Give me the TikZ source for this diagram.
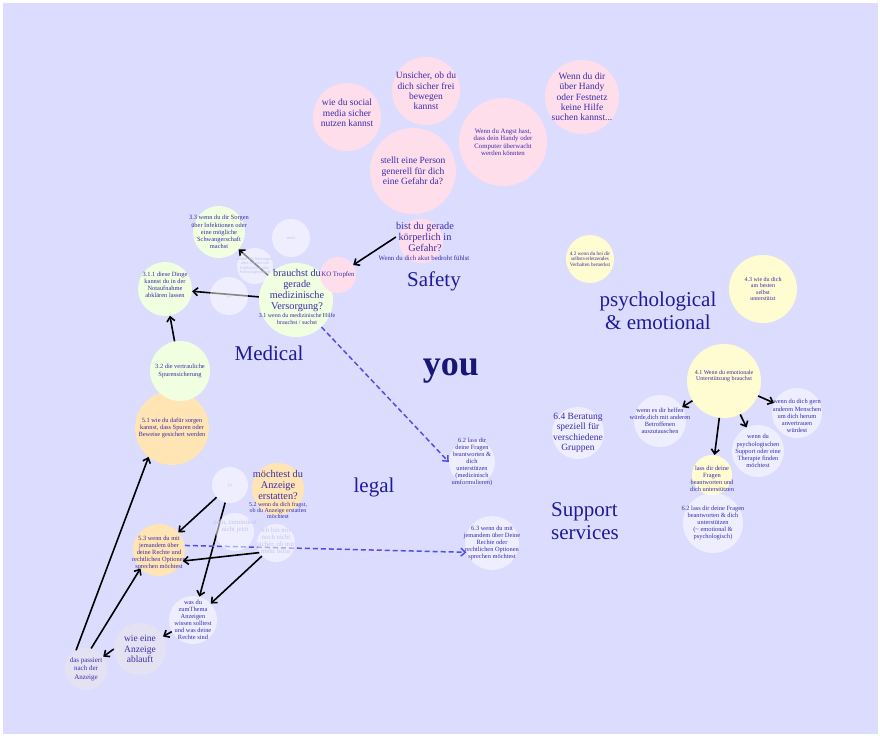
\documentclass[tikz,border=0pt]{standalone}
\usepackage{fontspec}
\setmainfont{Liberation Serif}
\usetikzlibrary{arrows.meta}
\definecolor{bgviolet}{RGB}{220,220,255}
\definecolor{inkblue}{RGB}{58,44,168}
\definecolor{navyblue}{RGB}{30,28,150}
\definecolor{youblue}{RGB}{24,22,118}
\definecolor{safetypink}{RGB}{255,222,236}
\definecolor{medgreen}{RGB}{239,255,224}
\definecolor{legalorange}{RGB}{255,228,180}
\definecolor{psychyellow}{RGB}{255,252,210}
\definecolor{ghostgray}{RGB}{228,226,242}
\definecolor{fainttext}{RGB}{198,196,236}
\definecolor{dashblue}{RGB}{80,80,232}
\pgfdeclarelayer{ghostlayer}
\pgfsetlayers{main,ghostlayer}
\tikzstyle{bubble} = [circle, inner sep=0pt, align=center, text=inkblue]
\tikzstyle{pinkbubble} = [bubble, fill=safetypink]
\tikzstyle{greenbubble} = [bubble, fill=medgreen]
\tikzstyle{orangebubble} = [bubble, fill=legalorange]
\tikzstyle{yellowbubble} = [bubble, fill=psychyellow]
\tikzstyle{graybubble} = [bubble, fill=ghostgray]
\tikzstyle{ghostbubble} = [bubble, fill=white, fill opacity=0.52, text opacity=1]
\tikzstyle{every label} = [align=center, text=inkblue, inner sep=0pt, text opacity=1]
\tikzstyle{caption} = [text=inkblue, align=center, inner sep=0pt]
\tikzstyle{faint} = [text=fainttext]
\tikzstyle{fhuge} = [font=\fontsize{10.3}{11}\selectfont]
\tikzstyle{fbig} = [font=\fontsize{9.5}{10.3}\selectfont]
\tikzstyle{fsmall} = [font=\fontsize{6.8}{7.5}\selectfont]
\tikzstyle{ffaint} = [font=\fontsize{6.8}{7}\selectfont]
\tikzstyle{ftiny} = [font=\fontsize{6.4}{7.1}\selectfont]
\tikzstyle{fmini} = [font=\fontsize{6}{6.2}\selectfont]
\tikzstyle{fmicro} = [font=\fontsize{5.2}{5.4}\selectfont]
\tikzstyle{fnano} = [font=\fontsize{4.5}{4.3}\selectfont]
\tikzstyle{topic} = [text=navyblue, align=center, inner sep=0pt, font=\fontsize{21}{23}\selectfont]
\tikzstyle{line} = [draw, line width=1.6pt, -{Straight Barb[length=4.5pt,width=8pt]}]
\tikzstyle{dashline} = [draw, dashblue, line width=1.5pt, dash pattern=on 5pt off 3pt, -{Straight Barb[length=4.5pt,width=8pt]}]

\begin{document}
\begin{tikzpicture}[x=1pt, y=-1pt]
  \fill [white] (0,0) rectangle (880,738);
  \fill [bgviolet] (3,3) rectangle (878,734);
  \useasboundingbox (0,0) rectangle (880,738);
  % safety
  \node [pinkbubble, minimum size=68pt, label={[fbig, yshift=4pt]center:{wie du social\\media sicher\\nutzen kannst}}] (socialmedia) at (347,117) {};
  \node [pinkbubble, minimum size=68pt, label={[fbig]center:{Unsicher, ob du\\dich sicher frei\\bewegen\\kannst}}] (bewegen) at (426,91) {};
  \node [pinkbubble, minimum size=88pt, label={[fsmall]center:{Wenn du Angst hast,\\dass dein Handy oder\\Computer überwacht\\werden könnten}}] (ueberwacht) at (503,142) {};
  \node [pinkbubble, minimum size=74pt, label={[fbig]center:{Wenn du dir\\über Handy\\oder Festnetz\\keine Hilfe\\suchen kannst...}}] (festnetz) at (582,97) {};
  \node [pinkbubble, minimum size=86pt, label={[fbig]center:{stellt eine Person\\generell für dich\\eine Gefahr da?}}] (person) at (413,171) {};
  \node [pinkbubble, minimum size=44pt] (gefahr) at (421,241) {};
  \node [caption, fhuge] (gefahrtext) at (425,237) {bist du gerade\\körperlich in\\Gefahr?};
  \node [caption, fsmall] (akuttext) at (424,258) {Wenn du dich akut bedroht fühlst};
  % medical
  \node [greenbubble, minimum size=52pt, label={[ftiny]center:{3.3 wenn du dir Sorgen\\über Infektionen oder\\eine mögliche\\Schwangerschaft\\machst}}] (schwanger) at (219,232) {};
  \node [greenbubble, minimum size=54pt, label={[ftiny, yshift=4pt]center:{3.1.1 diese Dinge\\kannst du in der\\Notaufnahme\\abklären lassen}}] (notaufnahme) at (165,289) {};
  \node [greenbubble, minimum size=74pt] (versorgung) at (296,300) {};
  \node [pinkbubble, minimum size=36pt, label={[fsmall]center:{KO Tropfen}}] (ko) at (338,275) {};
  \node [caption, fhuge] (versorgungtext) at (297,291) {brauchst du\\gerade\\medizinische\\Versorgung?};
  \node [caption, fmini] (hilfetext) at (297,319) {3.1 wenn du medizinische Hilfe\\brauchst / suchst};
  \node [orangebubble, minimum size=74pt, label={[ftiny]center:{5.1 wie du dafür sorgen\\kannst, dass Spuren oder\\Beweise gesichert werden}}] (beweise) at (172,428) {};
  \node [greenbubble, minimum size=60pt, label={[ftiny]center:{3.2 die vertrauliche\\Spurensicherung}}] (spuren) at (180,371) {};
  % legal
  \node [orangebubble, minimum size=52pt] (anzeige52) at (278,489) {};
  \node [caption, fhuge] (anzeigetext) at (278,484.5) {möchtest du\\Anzeige\\erstatten?};
  \node [caption, fmini] (fragsttext) at (278,510.5) {5.2 wenn du dich fragst,\\ob du Anzeige erstatten\\möchtest};
  \node [orangebubble, minimum size=52pt, label={[ftiny, yshift=-3pt]center:{5.3 wenn du mit\\jemandem über\\deine Rechte und\\rechtlichen Optionen\\sprechen möchtest}}] (rechte53) at (159,550) {};
  \node [graybubble, minimum size=52pt, label={[fbig]center:{wie eine\\Anzeige\\ablauft}}] (wieanzeige) at (140,649) {};
  \node [graybubble, minimum size=42pt, label={[font=\fontsize{7}{8.5}\selectfont]center:{das passiert\\nach der\\Anzeige}}] (passiert) at (86,669) {};
  % psychological
  \node [yellowbubble, minimum size=48pt, label={[fmicro]center:{4.2 wenn du bei dir\\selbstverletzendes\\Verhalten bemerkst}}] (selbstverletzung) at (590,259) {};
  \node [yellowbubble, minimum size=68pt, label={[fmini]center:{4.3 wie du dich\\am besten\\selbst\\unterstützt}}] (selbsthilfe) at (763,289) {};
  \node [yellowbubble, minimum size=74pt, label={[fmini, yshift=5pt]center:{4.1 Wenn du emotionale\\Unterstützung brauchst}}] (emotional) at (724,381) {};
  \node [yellowbubble, minimum size=40pt, label={[ftiny, yshift=-4pt]center:{lass dir deine\\Fragen\\beantworten und\\dich unterstützen}}] (fragen) at (712,475) {};
  % topics
  \node [topic] (safety) at (434,281) {Safety};
  \node [topic] (medical) at (269,353) {Medical};
  \node [topic] (legal) at (374,487) {legal};
  \node [topic] (psych) at (658,311) {psychological\\\& emotional};
  \node [topic, align=left, anchor=west] (support) at (551,521) {Support\\services};
  \node [text=youblue, inner sep=0pt, font=\bfseries\fontsize{36}{36}\selectfont] (you) at (451,371) {you};
  % light bubbles
  \begin{pgfonlayer}{ghostlayer}
  \node [ghostbubble, minimum size=38pt, label={[fnano, faint]center:{nein}}] (nein1) at (291,238) {};
  \node [ghostbubble, minimum size=36pt, label={[fnano, faint]center:{keine Verletzungen\\aber Sorgen um\\Infektionen oder\\Schwangerschaft}}] (verletzung) at (255,266) {};
  \node [ghostbubble, minimum size=38pt, label={[fmicro, faint]center:{ja}}] (ja1) at (229,296) {};
  \node [ghostbubble, minimum size=36pt, label={[fmicro, faint]center:{ja}}] (ja2) at (230,485) {};
  \node [ghostbubble, minimum size=38pt, label={[ffaint, faint, yshift=6pt]center:{nein, zumindest\\nicht jetzt}}] (nichtjetzt) at (235,532) {};
  \node [ghostbubble, minimum size=38pt, label={[ffaint, faint, yshift=2pt]center:{ich bin mir\\noch nicht\\sicher, ob mir\\mehr Infos}}] (ichbin) at (276,543) {};
  \node [ghostbubble, minimum size=48pt, label={[ftiny]center:{was du\\zumThema\\Anzeigen\\wissen solltest\\und was deine\\Rechte sind}}] (wasdu) at (193,620) {};
  \node [ghostbubble, minimum size=46pt, label={[ftiny]center:{6.2 lass dir\\deine Fragen\\beantworten \&\\dich\\unterstützen\\(medizinisch\\umformulieren)}}] (hilfe62) at (472,462) {};
  \node [ghostbubble, minimum size=54pt, label={[ftiny]center:{6.3 wenn du mit\\jemandem über Deine\\Rechte oder\\rechtlichen Optionen\\sprechen möchtest}}] (rechte63) at (492,543) {};
  \node [ghostbubble, minimum size=52pt, label={[ftiny]center:{wenn es dir helfen\\würde,dich mit anderen\\Betroffenen\\auszutauschen}}] (austausch) at (660,421) {};
  \node [ghostbubble, minimum size=50pt, label={[ftiny, yshift=-3pt]center:{wenn du dich gern\\anderen Menschen\\um dich herum\\anvertrauen\\würdest}}] (anvertrauen) at (797,413) {};
  \node [ghostbubble, minimum size=52pt, label={[ftiny]center:{wenn du\\psychologischen\\Support oder eine\\Therapie finden\\möchtest}}] (therapie) at (758,451) {};
  \node [ghostbubble, minimum size=60pt, label={[ftiny]center:{6.2 lass dir deine Fragen\\beantworten \& dich\\unterstützen\\(\textasciitilde\ emotional \&\\psychologisch)}}] (hilfe62b) at (713,523) {};
  \node [ghostbubble, minimum size=52pt, label={[fbig]center:{6.4 Beratung\\speziell für\\verschiedene\\Gruppen}}] (beratung) at (578,433) {};
  \end{pgfonlayer}
  % connectors
  \path [line] (gefahrtext.west) -- (ko);
  \path [line] (versorgung) -- (notaufnahme);
  \path [line] (versorgung) -- (schwanger);
  \path [line] (spuren) -- (notaufnahme);
  \path [dashline] (versorgung) -- (hilfe62.west);
  \path [line] (ja2) -- (rechte53);
  \path [line] (ja2) -- (wasdu);
  \path [line] (ichbin.210) -- (rechte53.-25);
  \path [line] (ichbin) -- (wasdu);
  \path [dashline] (rechte53.10) -- (rechte63.200);
  \path [line] (wasdu) -- (wieanzeige);
  \path [line] (wieanzeige.west) -- (passiert);
  \path [line] (passiert.118) -- (beweise.231);
  \path [line] (passiert.76) -- (rechte53.225);
  \path [line] (emotional) -- (austausch);
  \path [line] (emotional) -- (anvertrauen);
  \path [line] (emotional) -- (therapie);
  \path [line] (emotional) -- (fragen);
\end{tikzpicture}
\end{document}
